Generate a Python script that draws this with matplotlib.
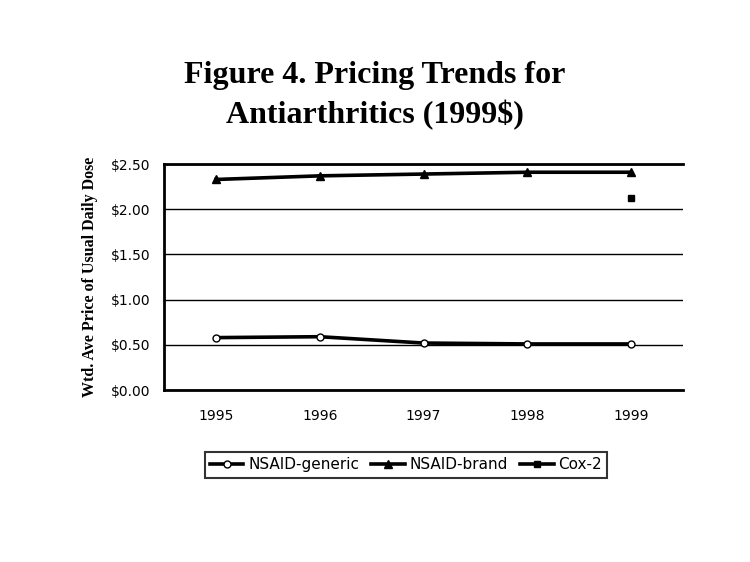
import matplotlib
matplotlib.use("Agg")
import matplotlib.pyplot as plt
import numpy as np

years = ["1995", "1996", "1997", "1998", "1999"]
nsaid_generic = [0.58, 0.59, 0.52, 0.51, 0.51]
nsaid_brand = [2.33, 2.37, 2.39, 2.41, 2.41]
cox2 = [None, None, None, None, 2.13]
yticks = [0, 0.5, 1.0, 1.5, 2.0, 2.5]
ytick_labels = ["$0.00", "$0.50", "$1.00", "$1.50", "$2.00", "$2.50"]

fig = plt.figure(figsize=(7.5, 5.62), dpi=100)
ax = fig.add_axes([0.2187, 0.306, 0.6920, 0.402])
x = np.arange(len(years))

ax.plot(x, nsaid_generic, color="black", lw=2.6, marker="o", ms=5,
        mfc="white", mec="black", mew=1, label="NSAID-generic")
ax.plot(x, nsaid_brand, color="black", lw=2.6, marker="^", ms=6,
        label="NSAID-brand")
cx = [i for i, v in enumerate(cox2) if v is not None]
cv = [v for v in cox2 if v is not None]
ax.plot(cx, cv, color="black", lw=2.6, marker="s", ms=5, linestyle="-",
        label="Cox-2")

ax.set_xlim(-0.5, 4.5)
ax.set_ylim(0, 2.5)
ax.set_yticks(yticks)
ax.set_yticklabels(ytick_labels)
ax.set_xticks(x)
ax.set_xticklabels(years)
ax.yaxis.grid(True, color="black", lw=1)
ax.set_axisbelow(True)
ax.tick_params(axis="both", length=0, labelsize=10, pad=10)
ax.tick_params(axis="x", pad=14)
for s in ["left", "bottom", "top"]:
    ax.spines[s].set_linewidth(2)
ax.spines["right"].set_visible(False)

ax.set_ylabel("Wtd. Ave Price of Usual Daily Dose", family="Liberation Serif",
              fontweight="bold", fontsize=11.5, labelpad=9)

fig.text(0.5, 0.83, "Figure 4. Pricing Trends for\nAntiarthritics (1999$)",
         ha="center", va="center", family="Liberation Serif", fontweight="bold",
         fontsize=23, linespacing=1.4)

leg = ax.legend(loc="upper center", bbox_to_anchor=(0.466, -0.24), ncol=3,
                frameon=True, fancybox=False, edgecolor="black",
                fontsize=11, handlelength=2.2, handletextpad=0.3,
                columnspacing=0.8, borderpad=0.35)
leg.get_frame().set_linewidth(1.5)

fig.savefig("out.png", dpi=100)
